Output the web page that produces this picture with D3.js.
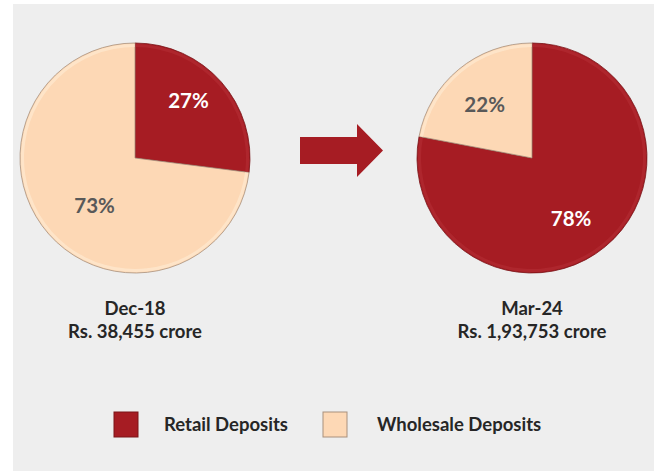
<!DOCTYPE html>
<html><head><meta charset="utf-8">
<script src="https://cdn.jsdelivr.net/npm/d3@7"></script>
<style>html,body{margin:0;padding:0;background:#fff;}svg{display:block;}</style>
</head><body>
<svg id="chart" width="654" height="471"></svg>
<script>
const periods = ["Dec-18", "Mar-24"];
const totals = ["Rs. 38,455 crore", "Rs. 1,93,753 crore"];
const categories = ["Retail Deposits", "Wholesale Deposits"];
const retailShare = [27, 78];
const wholesaleShare = [73, 22];

const colors = {"Retail Deposits": "#a61c23", "Wholesale Deposits": "#fdd8b5"};
const edgeColors = {"Retail Deposits": "#7a1418", "Wholesale Deposits": "#a8907c"};
const hlColors = {"Retail Deposits": "#b8343a", "Wholesale Deposits": "#fff3e0"};
const labelColors = {"Retail Deposits": "#ffffff", "Wholesale Deposits": "#595959"};
const font = "Lato, 'Open Sans', sans-serif";

const svg = d3.select("#chart");

// panel
svg.append("rect").attr("x", 13).attr("y", 4).attr("width", 641).attr("height", 467).attr("fill", "#eeeeee");

const pieCenters = [{x: 135, y: 158}, {x: 532, y: 158}];
const radius = 115;
// label placement: radius fraction and angular nudge (degrees) per slice
const labelFactor = [[0.68, 0.54], [0.63, 0.62]];
const labelNudge = [[-5.5, -8], [7, -2]];

const pie = d3.pie().sort(null).value(d => d.value);

periods.forEach((p, i) => {
  const data = [
    {cat: categories[0], value: retailShare[i]},
    {cat: categories[1], value: wholesaleShare[i]}
  ];
  const arcs = pie(data);
  const g = svg.append("g").attr("transform", `translate(${pieCenters[i].x},${pieCenters[i].y})`);
  const arc = d3.arc().innerRadius(0).outerRadius(radius);
  g.selectAll("path.slice").data(arcs).join("path")
    .attr("class", "slice")
    .attr("d", arc)
    .attr("fill", d => colors[d.data.cat])
    .attr("stroke", d => edgeColors[d.data.cat])
    .attr("stroke-width", 0.8);
  g.selectAll("path.hl").data(arcs).join("path")
    .attr("class", "hl")
    .attr("d", d3.arc().innerRadius(radius - 4).outerRadius(radius - 1))
    .attr("fill", d => hlColors[d.data.cat])
    .attr("opacity", 0.45);
  g.selectAll("text").data(arcs).join("text")
    .attr("transform", (d, j) => {
      const r = radius * labelFactor[i][j];
      const mid = (d.startAngle + d.endAngle) / 2 + labelNudge[i][j] * Math.PI / 180;
      const c = d3.arc().innerRadius(r).outerRadius(r).startAngle(mid).endAngle(mid).centroid();
      return `translate(${c[0]},${c[1]})`;
    })
    .attr("text-anchor", "middle")
    .attr("dy", "0.36em")
    .attr("font-family", font)
    .attr("font-weight", "bold")
    .attr("font-size", 20.5)
    .attr("fill", d => labelColors[d.data.cat])
    .text(d => d.data.value + "%");

  const t = svg.append("text").attr("text-anchor", "middle")
    .attr("font-family", font).attr("font-weight", "bold").attr("font-size", 18.5).attr("fill", "#262626");
  t.append("tspan").attr("x", pieCenters[i].x).attr("y", 315).text(p);
  t.append("tspan").attr("x", pieCenters[i].x).attr("y", 338).text(totals[i]);
});

// arrow
const arrowPts = [[300,137],[357,137],[357,124],[383,150.5],[357,177],[357,164],[300,164]];
svg.append("path").attr("d", d3.line()(arrowPts) + "Z").attr("fill", "#a61c23");

// legend
const legendItems = [{x: 114, tx: 164}, {x: 323, tx: 377}];
categories.forEach((c, i) => {
  svg.append("rect").attr("x", legendItems[i].x).attr("y", 412).attr("width", 24).attr("height", 25)
    .attr("fill", colors[c]).attr("stroke", edgeColors[c]).attr("stroke-width", 1);
  svg.append("text").attr("x", legendItems[i].tx).attr("y", 431)
    .attr("font-family", font).attr("font-weight", "bold").attr("font-size", 18.5).attr("fill", "#262626").text(c);
});
</script>
</body></html>
